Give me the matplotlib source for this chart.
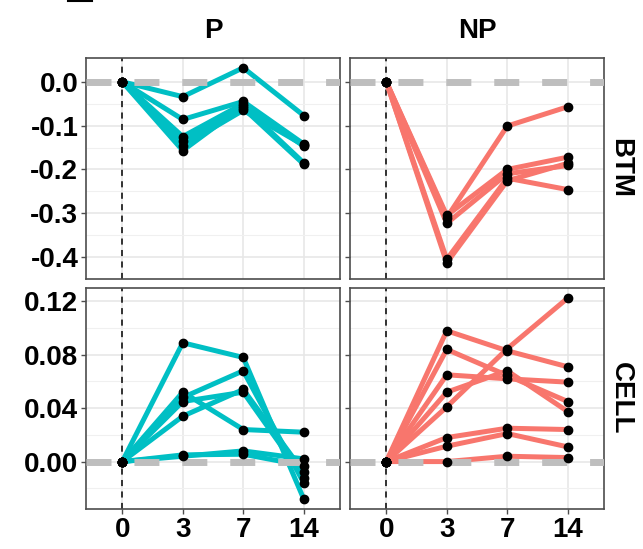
import matplotlib.pyplot as plt
from matplotlib.lines import Line2D

days = ['0', '3', '7', '14']
cols = ['P', 'NP']
rows = ['BTM', 'CELL']
colors = {'P': '#00BFC4', 'NP': '#F8766D'}

# one list per replicate, values at day 0, 3, 7, 14
p_btm = [
    [0, -0.034, 0.032, -0.077],
    [0, -0.086, -0.045, -0.142],
    [0, -0.125, -0.050, -0.147],
    [0, -0.135, -0.060, -0.188],
    [0, -0.146, -0.065, -0.145],
    [0, -0.157, -0.055, -0.185],
]
np_btm = [
    [0, -0.310, -0.101, -0.057],
    [0, -0.305, -0.200, -0.172],
    [0, -0.323, -0.210, -0.191],
    [0, -0.405, -0.220, -0.246],
    [0, -0.413, -0.226, -0.186],
]
p_cell = [
    [0, 0.089, 0.078, -0.028],
    [0, 0.052, 0.024, 0.022],
    [0, 0.048, 0.068, -0.016],
    [0, 0.034, 0.054, -0.008],
    [0, 0.045, 0.052, -0.012],
    [0, 0.004, 0.008, 0.002],
    [0, 0.005, 0.0055, -0.003],
]
np_cell = [
    [0, 0.041, 0.0845, 0.1225],
    [0, 0.098, 0.083, 0.071],
    [0, 0.084, 0.0645, 0.045],
    [0, 0.065, 0.062, 0.0595],
    [0, 0.052, 0.068, 0.0375],
    [0, 0.018, 0.025, 0.024],
    [0, 0.0115, 0.021, 0.011],
    [0, 0.0, 0.004, 0.003],
]
data = {('P', 'BTM'): p_btm, ('NP', 'BTM'): np_btm,
        ('P', 'CELL'): p_cell, ('NP', 'CELL'): np_cell}

yticks = {'BTM': [-0.4, -0.3, -0.2, -0.1, 0.0], 'CELL': [0.0, 0.04, 0.08, 0.12]}
ylabels = {'BTM': ['-0.4', '-0.3', '-0.2', '-0.1', '0.0'],
           'CELL': ['0.00', '0.04', '0.08', '0.12']}

plt.rcParams['font.family'] = ['Liberation Sans', 'DejaVu Sans']
W, H = 643, 549
fig = plt.figure(figsize=(W / 100, H / 100), dpi=100)

lefts = [86, 350]
tops = [58, 288]
pw, ph = 254, 221
x = list(range(len(days)))

for r, row in enumerate(rows):
    vals = [v for c in cols for s in data[(c, row)] for v in s]
    lo, hi = min(vals), max(vals)
    pad = (hi - lo) * 0.05
    for c, col in enumerate(cols):
        ax = fig.add_axes([lefts[c] / W, 1 - (tops[r] + ph) / H, pw / W, ph / H])
        ax.set_xlim(-0.6, len(days) - 0.4)
        ax.set_ylim(lo - pad, hi + pad)
        ax.set_xticks(x)
        ax.set_yticks(yticks[row])
        minor = [(a + b) / 2 for a, b in zip(yticks[row][:-1], yticks[row][1:])]
        minor = [yticks[row][0] - (yticks[row][1] - yticks[row][0]) / 2] + minor
        ax.set_yticks(minor, minor=True)
        ax.grid(True, which='major', color='#E6E6E6', lw=1.1, zorder=0)
        ax.grid(True, which='minor', axis='y', color='#F0F0F0', lw=0.8, zorder=0)
        ax.set_axisbelow(True)
        ax.axvline(0, color='black', lw=1.1, ls=(0, (4, 3.5)), zorder=1)
        for s in data[(col, row)]:
            ax.plot(x, s, color=colors[col], lw=3.6, solid_capstyle='round', zorder=2)
        ax.axhline(0, color='#BEBEBE', lw=5, ls=(0, (3.6, 3.3)), zorder=3)
        for s in data[(col, row)]:
            ax.plot(x, s, 'o', color='black', ms=6, zorder=4)
        for sp in ax.spines.values():
            sp.set_color('#4D4D4D')
            sp.set_linewidth(1.2)
        ax.tick_params(length=3.5, width=1, color='#4D4D4D', labelsize=20, pad=2)
        ax.tick_params(which='minor', length=0)
        if c == 0:
            ax.set_yticklabels(ylabels[row], fontweight='bold')
        else:
            ax.set_yticklabels([])
        if r == 1:
            ax.set_xticklabels(days, fontweight='bold')
        else:
            ax.tick_params(axis='x', length=0)
            ax.set_xticklabels([])
        if r == 0:
            ax.text(0.5, 1.12, col, transform=ax.transAxes, ha='center', va='center',
                    fontsize=20, fontweight='bold')
        if c == 1:
            ax.text(1.065, 0.5, row, transform=ax.transAxes, ha='center', va='center',
                    rotation=-90, fontsize=20, fontweight='bold')

fig.add_artist(Line2D([68 / W, 92 / W], [1 - 1 / H, 1 - 1 / H], color='black', lw=1.5))

fig.savefig('out.png', dpi=100)
